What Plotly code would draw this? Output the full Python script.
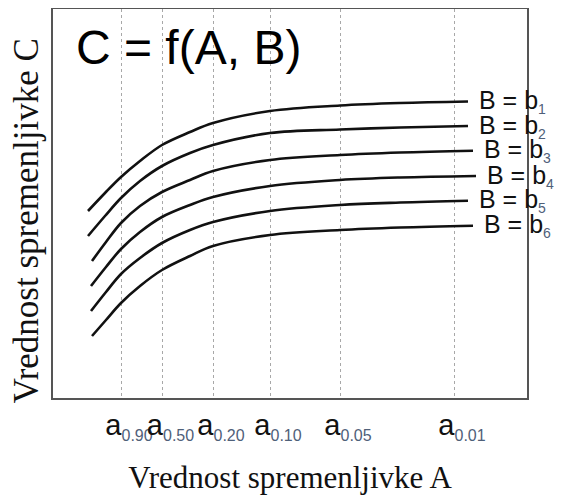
import plotly.graph_objects as go

# ---- data (x = value of A in plot units, C = value of C) ----
sub_digits = ["1", "2", "3", "4", "5", "6"]

x_b1 = [35, 52, 68, 87, 109, 137, 160, 217, 287, 347, 415]
c_b1 = [187, 205, 221, 237, 253, 266, 275, 287, 292.5, 295, 296.5]
x_b2 = [35, 52, 68, 87, 109, 137, 160, 217, 287, 347, 415]
c_b2 = [162, 182, 200, 217, 232, 245, 253, 265, 268.5, 270.5, 272]
x_b3 = [39, 53, 68, 87, 109, 137, 160, 217, 287, 347, 420]
c_b3 = [137, 156, 175, 192, 206, 218, 227, 238, 243, 245.5, 247.3]
x_b4 = [38, 53, 68, 87, 109, 137, 160, 217, 287, 347, 423]
c_b4 = [112, 131, 149, 166, 181, 193, 201, 212, 218, 220.5, 222]
x_b5 = [38, 53, 68, 87, 109, 137, 160, 217, 287, 347, 415]
c_b5 = [87, 106, 124, 140, 155, 168, 176, 187, 193, 195.5, 197.3]
x_b6 = [39, 53, 68, 87, 109, 137, 160, 217, 287, 347, 420]
c_b6 = [62, 78, 95, 112, 128, 142, 152, 163, 168, 170.5, 172.3]

xs = [x_b1, x_b2, x_b3, x_b4, x_b5, x_b6]
cs = [c_b1, c_b2, c_b3, c_b4, c_b5, c_b6]

tick_vals = [68, 109.5, 160, 217, 287, 401]
tick_subs = ["0.90", "0.50", "0.20", "0.10", "0.05", "0.01"]
x_range = [0, 474]
c_range = [0, 389]

SANS = "Liberation Sans, Arial, sans-serif"
SERIF = "Liberation Serif, Times New Roman, serif"
SUBCOL = "#4f6079"

fig = go.Figure()
for xv, cv in zip(xs, cs):
    fig.add_trace(go.Scatter(
        x=xv, y=cv, mode="lines",
        line=dict(color="#111111", width=2.6, shape="spline", smoothing=1.0),
        showlegend=False, hoverinfo="skip"))

for xv, cv, d in zip(xs, cs, sub_digits):
    fig.add_annotation(
        x=xv[-1], y=cv[-1], xref="x", yref="y",
        text=f"B = b<sub><span style='font-size:14px;color:{SUBCOL}'>{d}</span></sub>",
        showarrow=False, xanchor="left", yanchor="middle", xshift=9,
        font=dict(family=SANS, size=25, color="#111111"))

fig.add_annotation(
    x=0.045, y=0.9, xref="paper", yref="paper",
    text="C = f(A, B)", showarrow=False, xanchor="left", yanchor="middle",
    font=dict(family=SANS, size=48, color="#000000"))

fig.add_annotation(
    x=-0.058, y=0.455, xref="paper", yref="paper",
    text="Vrednost spremenljivke C", showarrow=False, textangle=-90,
    xanchor="center", yanchor="middle",
    font=dict(family=SERIF, size=35, color="#111111"))

tick_text = [f"a<sub><span style='font-size:16px;color:{SUBCOL}'>{s}</span></sub>" for s in tick_subs]

fig.update_layout(
    width=554, height=487,
    margin=dict(l=45, r=35, t=1, b=97),
    paper_bgcolor="white", plot_bgcolor="white",
    xaxis=dict(
        range=x_range, tickvals=tick_vals, ticktext=tick_text, tickangle=0,
        tickfont=dict(family=SANS, size=29, color="#111111"),
        ticks="", showgrid=True, gridcolor="#a8a8a8", griddash="dot", gridwidth=1,
        showline=True, linecolor="#555555", linewidth=1.5, mirror=True,
        zeroline=False, ticklabelshift=8, ticklabelstandoff=0, automargin=False,
        title=dict(text="Vrednost spremenljivke A", standoff=26,
                   font=dict(family=SERIF, size=31, color="#111111")),
    ),
    yaxis=dict(
        range=c_range, showticklabels=False, ticks="", showgrid=False,
        showline=True, linecolor="#555555", linewidth=1.5, mirror=True,
        zeroline=False, automargin=False,
    ),
)

fig.write_html("out.html")
